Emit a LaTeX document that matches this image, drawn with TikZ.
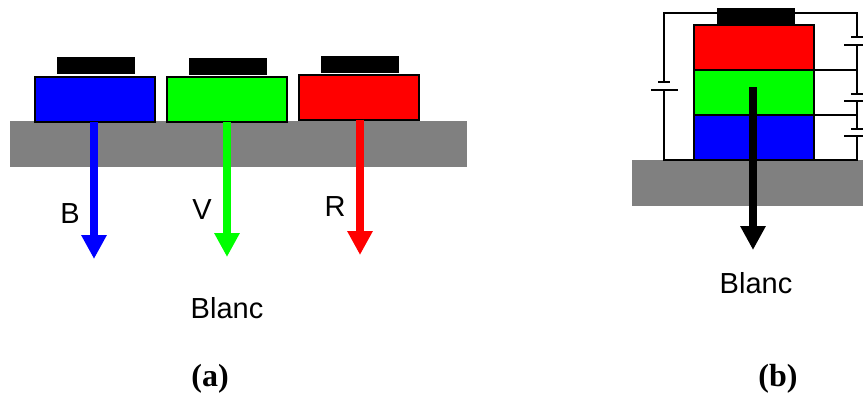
\documentclass[tikz,border=0pt]{standalone}
\usepackage{fontspec}
\setmainfont{Liberation Sans}
\newfontfamily\captionserif{Liberation Serif}
\usetikzlibrary{arrows.meta}
\tikzset{
    substrate/.style={fill={rgb,255:red,128;green,128;blue,128},minimum width=#1,minimum height=46pt,inner sep=0pt,outer sep=0pt},
    layer/.style={draw=black,line width=2pt,fill=#1,minimum width=120pt,minimum height=45pt,inner sep=0pt,outer sep=0pt},
    contact/.style={fill=black,minimum width=78pt,minimum height=17pt,inner sep=0pt,outer sep=0pt},
    light/.style={draw=#1,line width=8pt,-{Triangle[length=24pt,width=24pt]}},
    wire/.style={draw=black,line width=1.5pt},
    plate/.style={draw=black,line width=2pt},
    label/.style={font=\fontsize{29}{31}\selectfont},
    caption/.style={font=\captionserif\bfseries\fontsize{32}{34}\selectfont}
}
\begin{document}
\begin{tikzpicture}[x=1pt,y=-1pt]
    \useasboundingbox (0,0) rectangle (863,394);

    % (a)
    \node[substrate=457pt] (suba) at (238.5,144) {};
    \node[layer=blue] (ledB) at (94.5,99) {};
    \node[layer=green] (ledV) at (227,99.5) {};
    \node[layer=red] (ledR) at (358.5,97) {};
    \node[contact] (topB) at (96,65.5) {};
    \node[contact] (topV) at (228,66.5) {};
    \node[contact] (topR) at (360,64.5) {};

    \coordinate (endB) at (94,259);
    \coordinate (endV) at (227,257);
    \coordinate (endR) at (360,255);
    \draw[light=blue] (ledB.south -| endB) -- (endB);
    \draw[light=green] (ledV.south -| endV) -- (endV);
    \draw[light=red] (ledR.south -| endR) -- (endR);

    \node[label] (txtB) at (70,214) {B};
    \node[label] (txtV) at (202,210) {V};
    \node[label] (txtR) at (335,207) {R};
    \node[label] (blanca) at (227,308) {Blanc};
    \node[caption] (capa) at (210,379) {(a)};

    % (b)
    \node[substrate=231pt] (subb) at (747.5,183) {};
    \node[layer=blue] (stackB) at (753.5,137.5) {};
    \node[layer=green] (stackV) at (753.5,92.5) {};
    \node[layer=red] (stackR) at (753.5,47) {};
    \node[contact] (topb) at (755.5,16) {};

    % circuit
    \coordinate (wl) at (664,13);
    \coordinate (wr) at (857,13);
    \coordinate (lshort) at (664,82);
    \coordinate (llong) at (664,90);
    \coordinate (r1short) at (857,37);
    \coordinate (r1long) at (857,45);
    \coordinate (r2short) at (857,94);
    \coordinate (r2long) at (857,101);
    \coordinate (r3short) at (857,129);
    \coordinate (r3long) at (857,136);
    \coordinate (bl) at (664,160);
    \coordinate (br) at (857,160);

    \draw[wire] (topb.west |- wl) -- (wl) -- (lshort);
    \draw[wire] (llong) -- (bl) -- (stackB.south west);
    \draw[wire] (topb.east |- wr) -- (wr) -- (r1short);
    \draw[wire] (r1long) -- (r2short);
    \draw[wire] (r2long) -- (r3short);
    \draw[wire] (r3long) -- (br) -- (stackB.south east);
    \draw[wire] (stackV.north east) -- (stackV.north east -| wr);
    \draw[wire] (stackB.north east) -- (stackB.north east -| wr);

    \draw[plate] ([xshift=-6pt]lshort) -- ([xshift=6pt]lshort);
    \draw[plate] ([xshift=-13pt]llong) -- ([xshift=14pt]llong);
    \draw[plate] ([xshift=-6pt]r1short) -- ([xshift=6pt]r1short);
    \draw[plate] ([xshift=-13pt]r1long) -- ([xshift=6pt]r1long);
    \draw[plate] ([xshift=-6pt]r2short) -- ([xshift=6pt]r2short);
    \draw[plate] ([xshift=-13pt]r2long) -- ([xshift=6pt]r2long);
    \draw[plate] ([xshift=-6pt]r3short) -- ([xshift=6pt]r3short);
    \draw[plate] ([xshift=-13pt]r3long) -- ([xshift=6pt]r3long);

    \coordinate (startw) at (753,87);
    \coordinate (endw) at (753,250);
    \draw[light=black] (startw) -- (endw);

    \node[label] (blancb) at (756,283) {Blanc};
    \node[caption] (capb) at (778,379) {(b)};
\end{tikzpicture}
\end{document}
